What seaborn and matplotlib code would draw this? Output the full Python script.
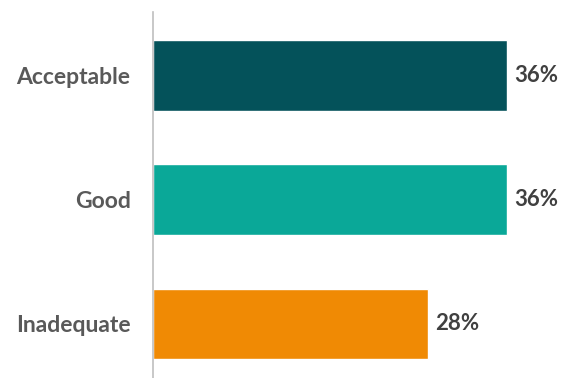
import matplotlib
matplotlib.use('Agg')
import matplotlib.pyplot as plt
import seaborn as sns
import pandas as pd

# data
categories = ['Acceptable', 'Good', 'Inadequate']
values = [36, 36, 28]
colors = ['#04525A', '#0AA898', '#F08A04']

df = pd.DataFrame({'Rating': categories, 'Share': values})

sns.set_style('white')
plt.rcParams['font.family'] = ['Lato', 'DejaVu Sans']

fig = plt.figure(figsize=(5.66, 3.78), dpi=100)
ax = fig.add_axes([0.270, 0.0, 0.730, 0.968])

sns.barplot(data=df, y='Rating', x='Share', hue='Rating', palette=colors,
            orient='h', width=0.57, legend=False, ax=ax, saturation=1)

ax.set_xlim(0, 42)
ax.set_ylim(2.434, -0.506)
ax.set_xlabel('')
ax.set_ylabel('')
ax.set_xticks([])

for s in ['top', 'right', 'bottom']:
    ax.spines[s].set_visible(False)
ax.spines['left'].set_color('#BFBFBF')
ax.spines['left'].set_linewidth(1.2)

ax.tick_params(axis='y', length=0, pad=16)
for lbl in ax.get_yticklabels():
    lbl.set_fontsize(16.5)
    lbl.set_fontweight('bold')
    lbl.set_color('#595959')

# value labels at bar ends
for i, v in enumerate(values):
    ax.text(v + 0.7, i, f'{v}%', va='center', ha='left',
            fontsize=16, fontweight='bold', color='#404040')

fig.savefig('out.png', dpi=100)
